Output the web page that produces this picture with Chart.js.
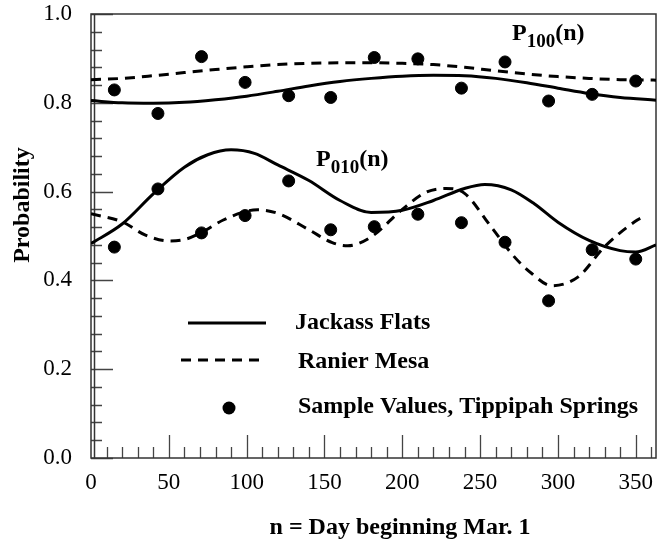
<!DOCTYPE html>
<html>
<head>
<meta charset="utf-8">
<script src="https://cdn.jsdelivr.net/npm/chart.js@4.4.1/dist/chart.umd.min.js"></script>
<style>
  html, body { margin: 0; padding: 0; background: #fff; }
  canvas { display: block; }
</style>
</head>
<body>
<canvas id="c" width="659" height="552"></canvas>
<script>
// days along the fitted curves
const jfDays100 = [0, 20, 40, 60, 80, 100, 120, 140, 160, 180, 200, 220, 240, 260, 280, 300, 320, 340, 363];
const jackass100 = [0.805, 0.800, 0.799, 0.801, 0.807, 0.815, 0.826, 0.838, 0.848, 0.855, 0.860, 0.862, 0.861, 0.855, 0.845, 0.833, 0.821, 0.812, 0.806];
const ranier100 = [0.852, 0.855, 0.861, 0.868, 0.875, 0.881, 0.886, 0.889, 0.890, 0.890, 0.889, 0.886, 0.880, 0.872, 0.865, 0.859, 0.855, 0.852, 0.851];

const jfDays010 = [0, 20, 40, 60, 75, 90, 105, 120, 140, 160, 180, 200, 220, 240, 253, 270, 285, 300, 320, 340, 350, 363];
const jackass010 = [0.483, 0.527, 0.595, 0.655, 0.683, 0.694, 0.686, 0.660, 0.625, 0.580, 0.553, 0.558, 0.580, 0.607, 0.616, 0.604, 0.572, 0.531, 0.490, 0.467, 0.464, 0.480];

const rmDays010 = [0, 20, 35, 50, 60, 70, 85, 100, 107, 120, 140, 155, 165, 180, 200, 215, 228, 240, 257, 272, 283, 296, 313, 330, 351, 356];
const ranier010 = [0.550, 0.532, 0.502, 0.489, 0.492, 0.506, 0.536, 0.556, 0.559, 0.551, 0.514, 0.485, 0.478, 0.498, 0.560, 0.598, 0.607, 0.596, 0.521, 0.453, 0.416, 0.388, 0.408, 0.476, 0.536, 0.545];

// Tippipah Springs sample values
const sampleDays = [15, 43, 71, 99, 127, 154, 182, 210, 238, 266, 294, 322, 350];
const sample100 = [0.829, 0.776, 0.904, 0.846, 0.816, 0.812, 0.902, 0.899, 0.833, 0.892, 0.804, 0.819, 0.849];
const sample010 = [0.475, 0.606, 0.507, 0.546, 0.624, 0.514, 0.521, 0.549, 0.530, 0.486, 0.354, 0.469, 0.448];

const pts = (xs, ys) => xs.map((x, i) => ({x, y: ys[i]}));

const SERIF = '"Liberation Serif", "Times New Roman", serif';
Chart.defaults.font.family = SERIF;
Chart.defaults.color = '#000';

const DASH = [10, 7];
// wanted plot box
const AREA = {left: 91, top: 14, right: 656, bottom: 458};

function line(label, xs, ys, dashed) {
    return {
        type: 'line', label, data: pts(xs, ys),
        borderColor: '#000', borderWidth: 3, borderDash: dashed ? DASH : [],
        pointRadius: 0, fill: false, cubicInterpolationMode: 'monotone'
    };
}
function dots(label, xs, ys) {
    return {
        type: 'scatter', label, data: pts(xs, ys),
        backgroundColor: '#000', borderColor: '#000', pointRadius: 6, pointHoverRadius: 6
    };
}

// inward tick marks + frame, titles, legend
const frameTicks = {
    id: 'frameTicks',
    beforeDatasetsDraw(chart) {
        const {ctx, chartArea: a, scales: {x, y}} = chart;
        ctx.save();
        ctx.strokeStyle = '#444';
        ctx.lineWidth = 1.3;
        ctx.beginPath();
        for (let v = 0; v <= 1.0001; v += 0.04) {
            const py = Math.round(y.getPixelForValue(v)) + 0.5;
            const major = Math.abs(v / 0.2 - Math.round(v / 0.2)) < 1e-6;
            ctx.moveTo(a.left, py);
            ctx.lineTo(a.left + (major ? 22 : 11), py);
        }
        for (let d = 10; d <= 360; d += 10) {
            const px = Math.round(x.getPixelForValue(d)) + 0.5;
            ctx.moveTo(px, a.bottom);
            ctx.lineTo(px, a.bottom - (d % 50 === 0 ? 23 : 11));
        }
        ctx.stroke();
        ctx.strokeStyle = '#333';
        ctx.lineWidth = 1.5;
        ctx.strokeRect(a.left, a.top, a.right - a.left, a.bottom - a.top);
        ctx.beginPath();
        ctx.moveTo(a.left + 3.5, a.top);
        ctx.lineTo(a.left + 3.5, a.bottom);
        ctx.stroke();
        ctx.restore();
    },
    afterDraw(chart) {
        const {ctx} = chart;
        ctx.save();
        ctx.fillStyle = '#000';
        ctx.textBaseline = 'middle';
        ctx.textAlign = 'center';
        ctx.font = 'bold 24px ' + SERIF;
        ctx.fillText('n = Day beginning Mar. 1', 400, 528);
        ctx.translate(23, 205);
        ctx.rotate(-Math.PI / 2);
        ctx.fillText('Probability', 0, 0);
        ctx.restore();

        const sub = (x0, yb, base, s, tail) => {
            ctx.save();
            ctx.fillStyle = '#000';
            ctx.textAlign = 'left';
            ctx.textBaseline = 'alphabetic';
            ctx.font = 'bold 24px ' + SERIF;
            ctx.fillText(base, x0, yb);
            let w = ctx.measureText(base).width;
            ctx.font = 'bold 19px ' + SERIF;
            ctx.fillText(s, x0 + w, yb + 7);
            w += ctx.measureText(s).width;
            ctx.font = 'bold 24px ' + SERIF;
            ctx.fillText(tail, x0 + w, yb);
            ctx.restore();
        };
        sub(512, 40, 'P', '100', '(n)');
        sub(316, 166, 'P', '010', '(n)');

        ctx.save();
        ctx.strokeStyle = '#000';
        ctx.lineWidth = 3;
        ctx.beginPath();
        ctx.moveTo(188, 323); ctx.lineTo(266, 323);
        ctx.stroke();
        ctx.setLineDash(DASH);
        ctx.beginPath();
        ctx.moveTo(181, 360); ctx.lineTo(263, 360);
        ctx.stroke();
        ctx.setLineDash([]);
        ctx.fillStyle = '#000';
        ctx.beginPath();
        ctx.arc(229, 408, 6.5, 0, Math.PI * 2);
        ctx.fill();
        ctx.font = 'bold 24px ' + SERIF;
        ctx.textAlign = 'left';
        ctx.textBaseline = 'middle';
        ctx.fillText('Jackass Flats', 295, 323);
        ctx.fillText('Ranier Mesa', 298, 362);
        ctx.fillText('Sample Values, Tippipah Springs', 298, 407);
        ctx.restore();
    }
};

const chart = new Chart(document.getElementById('c'), {
    data: {
        datasets: [
            line('Jackass Flats', jfDays100, jackass100, false),
            line('Jackass Flats', jfDays010, jackass010, false),
            line('Ranier Mesa', jfDays100, ranier100, true),
            line('Ranier Mesa', rmDays010, ranier010, true),
            dots('Sample Values, Tippipah Springs', sampleDays, sample100),
            dots('Sample Values, Tippipah Springs', sampleDays, sample010)
        ]
    },
    options: {
        responsive: false,
        animation: false,
        layout: {autoPadding: false, padding: {top: 14, right: 3, left: 0, bottom: 0}},
        plugins: {legend: {display: false}, tooltip: {enabled: false}},
        scales: {
            x: {
                type: 'linear', min: 0, max: 363,
                // gap to labels via (hidden) tick length
                grid: {display: false, drawTicks: true, tickLength: 11},
                border: {display: false},
                ticks: {stepSize: 50, includeBounds: false, padding: 0, font: {size: 23}, color: '#000'},
                afterFit: s => { s.height = 94; s.paddingLeft = 0; s.paddingRight = 0; }
            },
            y: {
                type: 'linear', min: 0, max: 1,
                grid: {display: false, drawTicks: true, tickLength: 19},
                border: {display: false},
                ticks: {stepSize: 0.2, padding: 0, font: {size: 23}, color: '#000',
                    callback: v => v.toFixed(1)},
                afterFit: s => { s.width = 91; s.paddingTop = 0; s.paddingBottom = 0; }
            }
        }
    },
    plugins: [frameTicks]
});

// nudge padding so the plot box lands where the reference has it
for (let i = 0; i < 3; i++) {
    const a = chart.chartArea, p = chart.options.layout.padding;
    const dt = AREA.top - a.top, dr = a.right - AREA.right;
    const dl = AREA.left - a.left, db = a.bottom - AREA.bottom;
    if (!dt && !dr && !dl && !db) break;
    p.top = Math.max(0, p.top + dt);
    p.right = Math.max(0, p.right + dr);
    p.left = Math.max(0, p.left + dl);
    p.bottom = Math.max(0, p.bottom + db);
    chart.update();
}
</script>
</body>
</html>
